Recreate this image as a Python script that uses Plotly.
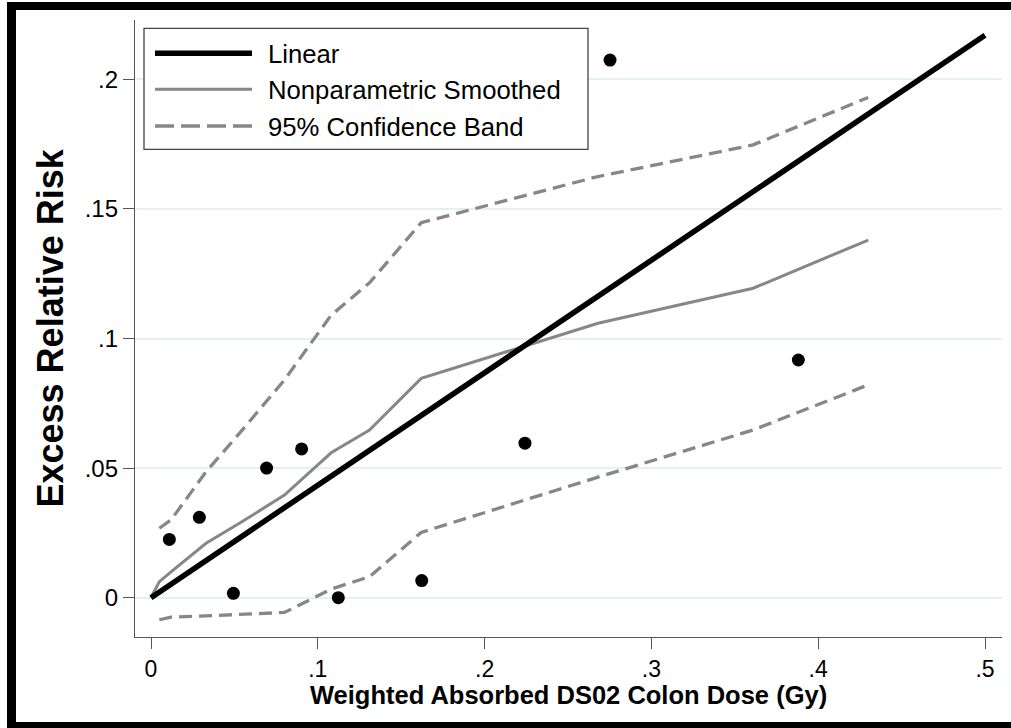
import plotly.graph_objects as go

# ---------------- data ----------------
dose_pts = [0.011, 0.029, 0.0494, 0.0693, 0.0903, 0.1123, 0.1623, 0.2242, 0.2752, 0.3881]
err_pts = [0.0225, 0.0310, 0.0017, 0.0500, 0.0574, 0.0000, 0.0066, 0.0596, 0.2074, 0.0917]

linear_x = [0.0, 0.5]
linear_y = [0.0, 0.217]

smooth_x = [0.0, 0.005, 0.012, 0.033, 0.053, 0.080, 0.108, 0.131, 0.162, 0.268, 0.361, 0.430]
smooth_y = [0.0, 0.0062, 0.0100, 0.0210, 0.0287, 0.0396, 0.0559, 0.0647, 0.0846, 0.1059, 0.1194, 0.1380]

band_x = [0.005, 0.012, 0.033, 0.053, 0.080, 0.108, 0.131, 0.162, 0.268, 0.361, 0.430]
upper_y = [0.0268, 0.0300, 0.0486, 0.0634, 0.0840, 0.1090, 0.1215, 0.1447, 0.1625, 0.1747, 0.1930]
lower_y = [-0.0085, -0.0075, -0.0070, -0.0065, -0.0057, 0.0033, 0.0081, 0.0252, 0.0465, 0.0647, 0.0821]

x_tickvals = [0, 0.1, 0.2, 0.3, 0.4, 0.5]
x_ticktext = ["0", ".1", ".2", ".3", ".4", ".5"]
y_tickvals = [0, 0.05, 0.1, 0.15, 0.2]
y_ticktext = ["0", ".05", ".1", ".15", ".2"]

legend_labels = ["Linear", "Nonparametric Smoothed", "95% Confidence Band"]

# ---------------- styling ----------------
FONT = "Liberation Sans, Arial, Helvetica, sans-serif"
GRAY = "#878787"
AXIS = "#555555"

fig = go.Figure()

fig.add_trace(go.Scatter(x=band_x, y=upper_y, mode="lines", name=legend_labels[2],
                         line=dict(color=GRAY, width=3.3, dash="13px,7px"), showlegend=False))
fig.add_trace(go.Scatter(x=band_x, y=lower_y, mode="lines", name=legend_labels[2],
                         line=dict(color=GRAY, width=3.3, dash="13px,7px"), showlegend=False))
fig.add_trace(go.Scatter(x=smooth_x, y=smooth_y, mode="lines", name=legend_labels[1],
                         line=dict(color=GRAY, width=3), showlegend=False))
fig.add_trace(go.Scatter(x=linear_x, y=linear_y, mode="lines", name=legend_labels[0],
                         line=dict(color="black", width=5.5), showlegend=False))
fig.add_trace(go.Scatter(x=dose_pts, y=err_pts, mode="markers", name="Observed",
                         marker=dict(color="black", size=13), showlegend=False))

shapes = []
W, H = 1011, 728
ml, mr, mt, mb = 135, 9, 20, 91
pw, ph = W - ml - mr, H - mt - mb


def px2paper_x(px):
    return (px - ml) / pw


def px2paper_y(py):
    return (H - mb - py) / ph


# outer black frame (left, top, bottom bands; right edge is cut off in the reference)
for (x0, y0, x1, y1) in [(7, 2, 16, 728), (7, 2, 1011, 10), (7, 722, 1011, 728)]:
    shapes.append(dict(type="rect", xref="paper", yref="paper",
                       x0=px2paper_x(x0), x1=px2paper_x(x1),
                       y0=px2paper_y(y1), y1=px2paper_y(y0),
                       fillcolor="black", line=dict(width=0), layer="above"))

# custom legend box
shapes.append(dict(type="rect", xref="paper", yref="paper",
                   x0=px2paper_x(144), x1=px2paper_x(588),
                   y0=px2paper_y(149.3), y1=px2paper_y(28.3),
                   fillcolor="white", line=dict(color="#444444", width=1.3), layer="above"))
row_py = [53.3, 89.3, 126.0]
row_styles = [dict(color="black", width=5.5), dict(color=GRAY, width=3),
              dict(color=GRAY, width=3.3, dash="19px,7px")]
annotations = []
for py, st, lab in zip(row_py, row_styles, legend_labels):
    shapes.append(dict(type="line", xref="paper", yref="paper",
                       x0=px2paper_x(155), x1=px2paper_x(252),
                       y0=px2paper_y(py), y1=px2paper_y(py), line=st, layer="above"))
    annotations.append(dict(text=lab, xref="paper", yref="paper",
                            x=px2paper_x(266), y=px2paper_y(py + 1), xanchor="left", yanchor="middle",
                            showarrow=False, font=dict(family=FONT, size=25.7, color="black")))

# axis titles
annotations.append(dict(text="Weighted Absorbed DS02 Colon Dose (Gy)", xref="paper", yref="paper",
                        x=0.5, y=px2paper_y(695), xanchor="center", yanchor="middle", showarrow=False,
                        font=dict(family=FONT, size=25.5, color="black", weight="bold")))
annotations.append(dict(text="Excess Relative Risk", xref="paper", yref="paper",
                        x=px2paper_x(50), y=0.5, xanchor="center", yanchor="middle", showarrow=False,
                        textangle=-90,
                        font=dict(family=FONT, size=36, color="black", weight="bold")))

fig.update_layout(
    width=W, height=H,
    margin=dict(l=ml, r=mr, t=mt, b=mb, pad=0),
    paper_bgcolor="white", plot_bgcolor="white",
    showlegend=False,
    shapes=shapes, annotations=annotations,
    font=dict(family=FONT, size=24, color="black"),
)
fig.update_xaxes(range=[-0.00959, 0.51019], tickvals=x_tickvals, ticktext=x_ticktext,
                 showgrid=False, zeroline=False, showline=True, linecolor=AXIS, linewidth=1.3,
                 ticks="outside", ticklen=11, tickwidth=1.3, tickcolor=AXIS,
                 tickfont=dict(family=FONT, size=23, color="black"))
fig.update_yaxes(range=[-0.01516, 0.22288], tickvals=y_tickvals, ticktext=y_ticktext,
                 showgrid=True, gridcolor="#e6eff1", gridwidth=1.5, zeroline=False,
                 showline=True, linecolor=AXIS, linewidth=1.3,
                 ticks="outside", ticklen=11, tickwidth=1.3, tickcolor=AXIS,
                 tickfont=dict(family=FONT, size=24, color="black"))

fig.write_html("out.html")
